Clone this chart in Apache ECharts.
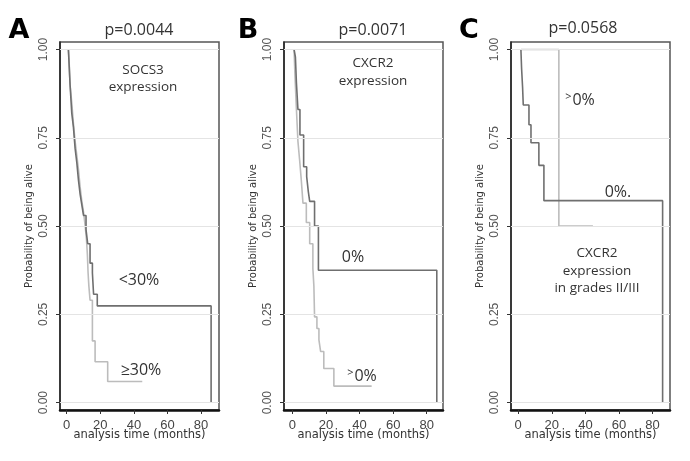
<!DOCTYPE html>
<html>
<head>
<meta charset="utf-8">
<script src="https://cdn.jsdelivr.net/npm/echarts@6/dist/echarts.min.js"></script>
<style>
  html, body { margin: 0; padding: 0; background: #fff; }
  #chart { width: 690px; height: 461px; }
</style>
</head>
<body>
<div id="chart"></div>
<script>
// survival curves, [months, probability] at each step
const socsLow = [[1,1],[1.5,0.95],[2,0.9],[3,0.82],[4,0.78],[5,0.72],[6,0.68],[7,0.63],[8,0.59],[9,0.56],[10,0.53],[11.5,0.49],[12.5,0.45],[13.9,0.395],[15.3,0.367],[16,0.307],[18.2,0.274],[86,0]];
const socsHigh = [[1,1],[1.4,0.97],[2,0.9],[3,0.85],[4,0.79],[5,0.74],[6,0.7],[7,0.66],[8,0.61],[9,0.57],[10,0.54],[11,0.5],[11.8,0.46],[12.3,0.42],[12.7,0.37],[13.2,0.33],[13.9,0.29],[15.3,0.175],[16.9,0.116],[24.4,0.06],[45,0.06]];
const cxcrNeg = [[1,1],[1.8,0.978],[2.4,0.905],[3.3,0.83],[4.5,0.758],[6.7,0.668],[8.5,0.64],[9.5,0.597],[10.3,0.57],[13.2,0.5],[15.5,0.375],[86,0]];
const cxcrPos = [[1,1],[1.5,0.93],[2.4,0.83],[3.3,0.74],[4.3,0.687],[5.3,0.63],[6.3,0.565],[8.3,0.51],[10.3,0.45],[12.2,0.38],[12.8,0.33],[13.2,0.243],[14.6,0.21],[15.8,0.178],[16.8,0.145],[18.7,0.097],[24.7,0.047],[47.2,0.047]];
const gradeNeg = [[1.6,1],[2,0.947],[2.6,0.893],[3,0.843],[6.4,0.787],[7.6,0.736],[12.3,0.672],[15.3,0.572],[86,0]];
const gradePos = [[1.6,1],[24.2,0.5],[44.5,0.5]];

const pValues = ['p=0.0044', 'p=0.0071', 'p=0.0568'];
const panelLetters = ['A', 'B', 'C'];
const yTicks = [0, 0.25, 0.5, 0.75, 1];
const xTicks = [0, 20, 40, 60, 80];

const DARK = '#6f6f6f';
const LIGHT = '#bcbcbc';

var myChart = echarts.init(document.getElementById('chart'));

var panels = [
  { left: 60, xmin: -4, dark: socsLow, light: socsHigh },
  { left: 284, xmin: -5, dark: cxcrNeg, light: cxcrPos },
  { left: 511, xmin: -4.3, dark: gradeNeg, light: gradePos }
];

var grids = [], xAxes = [], yAxes = [], seriesList = [];

panels.forEach(function (p, i) {
  grids.push({
    left: p.left, top: 42, width: 159, height: 368,
    show: true, borderColor: '#555', borderWidth: 1.5, backgroundColor: 'transparent'
  });
  xAxes.push({
    gridIndex: i, type: 'value', min: p.xmin, max: p.xmin + 94.7,
    axisLine: { onZero: false, lineStyle: { color: '#111', width: 2.5 } },
    axisTick: { customValues: xTicks, length: 4, lineStyle: { color: '#333' } },
    axisLabel: { customValues: xTicks, margin: 9, fontSize: 13, color: '#444',
      fontFamily: 'Liberation Sans Narrow, Liberation Sans, sans-serif' },
    splitLine: { show: false },
    name: 'analysis time (months)', nameLocation: 'middle', nameGap: 19,
    nameMoveOverlap: false,
    nameTextStyle: { fontSize: 11.5, color: '#333', fontFamily: 'DejaVu Sans' }
  });
  yAxes.push({
    gridIndex: i, type: 'value', min: -0.0207, max: 1.0212,
    axisLine: { show: true, onZero: false, lineStyle: { color: '#222', width: 1.5 } },
    axisTick: { show: true, customValues: yTicks, length: 4, lineStyle: { color: '#333' } },
    axisLabel: { customValues: yTicks, rotate: 90, margin: 10, fontSize: 12, color: '#555',
      fontFamily: 'Liberation Sans Narrow, Liberation Sans, sans-serif',
      formatter: function (v) { return v.toFixed(2); } },
    splitLine: { show: false },
    name: 'Probability of being alive', nameLocation: 'middle', nameGap: 26,
    nameMoveOverlap: false,
    nameTextStyle: { fontSize: 10, color: '#333', fontFamily: 'DejaVu Sans' }
  });
  // light horizontal reference lines
  seriesList.push({
    type: 'line', xAxisIndex: i, yAxisIndex: i, data: [], silent: true,
    markLine: {
      silent: true, symbol: 'none', label: { show: false },
      lineStyle: { color: '#e4e4e4', width: 1, type: 'solid' },
      data: yTicks.map(function (v) { return { yAxis: v }; })
    }
  });
  seriesList.push({
    type: 'line', xAxisIndex: i, yAxisIndex: i, data: p.light, step: 'end',
    showSymbol: false, lineStyle: { color: LIGHT, width: 1.6 }, z: 3
  });
  seriesList.push({
    type: 'line', xAxisIndex: i, yAxisIndex: i, data: p.dark, step: 'end',
    showSymbol: false, lineStyle: { color: DARK, width: 1.6 }, z: 4
  });
});

function txt(x, y, text, size, extra) {
  var style = Object.assign({
    text: text, x: x, y: y, fill: '#333', fontSize: size,
    fontFamily: 'Open Sans', align: 'center', verticalAlign: 'middle'
  }, extra || {});
  return { type: 'text', style: style, z: 10 };
}

var sup = { s: { fontSize: 11, fontFamily: 'Open Sans', fill: '#333', padding: [0, 1, 7, 0] },
            n: { fontSize: 16, fontFamily: 'Open Sans', fill: '#333' } };

var texts = [
  txt(19, 31, panelLetters[0], 27, { fill: '#000', fontWeight: 'bold', fontFamily: 'DejaVu Sans' }),
  txt(248, 31, panelLetters[1], 27, { fill: '#000', fontWeight: 'bold', fontFamily: 'DejaVu Sans' }),
  txt(469, 31, panelLetters[2], 27, { fill: '#000', fontWeight: 'bold', fontFamily: 'DejaVu Sans' }),
  txt(139, 30, pValues[0], 16),
  txt(373, 30, pValues[1], 16),
  txt(583, 28, pValues[2], 16),
  txt(143, 70, 'SOCS3', 13.5),
  txt(143, 87, 'expression', 13.5),
  txt(139, 280, '<30%', 16),
  txt(141, 370, '≥30%', 16),
  txt(373, 63, 'CXCR2', 13.5),
  txt(373, 81, 'expression', 13.5),
  txt(353, 257, '0%', 16),
  txt(362, 376, '{s|>}{n|0%}', 16, { rich: sup }),
  txt(580, 100, '{s|>}{n|0%}', 16, { rich: sup }),
  txt(618, 192, '0%.', 16),
  txt(597, 253, 'CXCR2', 13.5),
  txt(597, 271, 'expression', 13.5),
  txt(597, 288, 'in grades II/III', 13.5)
];

var option = {
  animation: false,
  backgroundColor: '#fff',
  grid: grids,
  xAxis: xAxes,
  yAxis: yAxes,
  series: seriesList,
  graphic: texts
};
myChart.setOption(option);
</script>
</body>
</html>
